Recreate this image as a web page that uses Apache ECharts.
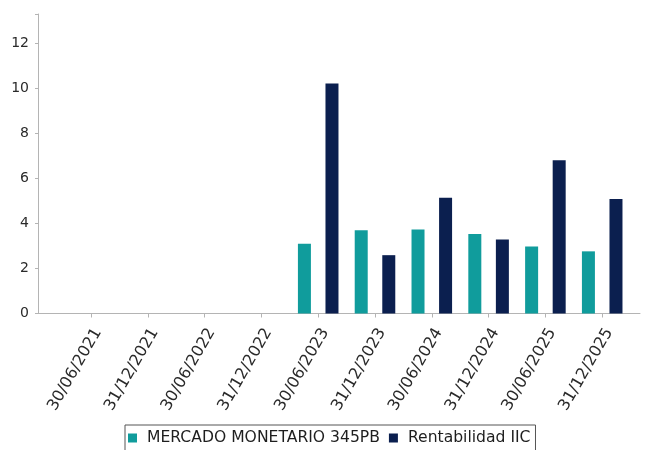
<!DOCTYPE html>
<html>
<head>
<meta charset="utf-8">
<script src="https://cdn.jsdelivr.net/npm/echarts@6/dist/echarts.min.js"></script>
<style>
html,body{margin:0;padding:0;background:#fff;}
#chart{width:646px;height:450px;}
</style>
</head>
<body>
<div id="chart"></div>
<script>
var categories = ['30/06/2021','31/12/2021','30/06/2022','31/12/2022','30/06/2023','31/12/2023','30/06/2024','31/12/2024','30/06/2025','31/12/2025'];
var fundName = 'MERCADO MONETARIO 345PB';
var iicName = 'Rentabilidad IIC';
var fundValues = [null, null, null, null, 3.10, 3.70, 3.73, 3.53, 2.98, 2.76];
var iicValues = [null, null, null, null, 10.21, 2.59, 5.14, 3.29, 6.81, 5.08];
var yTicks = [0, 2, 4, 6, 8, 10, 12];

var yMax = 13.3;
var axisGray = '#b4b4b4';
var textColor = '#2a2a2a';
var font = 'DejaVu Sans';

var chart = echarts.init(document.getElementById('chart'), null, {renderer: 'canvas'});
chart.setOption({
  animation: false,
  backgroundColor: '#ffffff',
  textStyle: {fontFamily: font},
  grid: [
    {left: 62.6, right: 15.4, top: 14, bottom: 136.5},
    {left: 38, right: 6, top: 14, bottom: 136.5}
  ],
  legend: {
    left: 125,
    top: 425,
    data: [fundName, iicName],
    icon: 'rect',
    itemWidth: 9,
    itemHeight: 9,
    itemGap: 9,
    padding: [5, 5, 5, 3],
    borderColor: '#555555',
    borderWidth: 1,
    borderRadius: 0,
    textStyle: {fontFamily: font, fontSize: 15.6, color: '#1e1e1e', padding: [0, 0, 0, 5]}
  },
  xAxis: [
    {
      type: 'category',
      gridIndex: 0,
      data: categories,
      boundaryGap: true,
      axisLine: {show: false},
      axisTick: {show: true, alignWithLabel: true, length: 4, lineStyle: {color: axisGray}},
      axisLabel: {rotate: 60, interval: 0, margin: 12, verticalAlign: 'top', fontFamily: font, fontSize: 16, color: textColor}
    },
    {
      type: 'value',
      gridIndex: 1,
      min: 0,
      max: 1,
      axisLine: {show: true, lineStyle: {color: axisGray}},
      axisTick: {show: false},
      axisLabel: {show: false},
      splitLine: {show: false}
    }
  ],
  yAxis: [
    {
      type: 'value',
      gridIndex: 0,
      min: 0,
      max: yMax,
      show: false,
      splitLine: {show: false}
    },
    {
      type: 'value',
      gridIndex: 1,
      min: 0,
      max: yMax,
      interval: 2,
      axisLine: {show: true, lineStyle: {color: axisGray}},
      axisTick: {show: true, length: 3, lineStyle: {color: axisGray}},
      splitLine: {show: false},
      axisLabel: {
        margin: 9,
        fontFamily: font,
        fontSize: 14,
        color: textColor,
        formatter: function (v) { return yTicks.indexOf(v) >= 0 ? String(v) : ''; }
      }
    }
  ],
  series: [
    {
      name: fundName,
      type: 'bar',
      xAxisIndex: 0,
      yAxisIndex: 0,
      data: fundValues,
      barWidth: 13,
      barGap: '112%',
      itemStyle: {color: '#109c9c'}
    },
    {
      name: iicName,
      type: 'bar',
      xAxisIndex: 0,
      yAxisIndex: 0,
      data: iicValues,
      barWidth: 13,
      barGap: '112%',
      itemStyle: {color: '#0b1f4f'}
    }
  ]
});
</script>
</body>
</html>
